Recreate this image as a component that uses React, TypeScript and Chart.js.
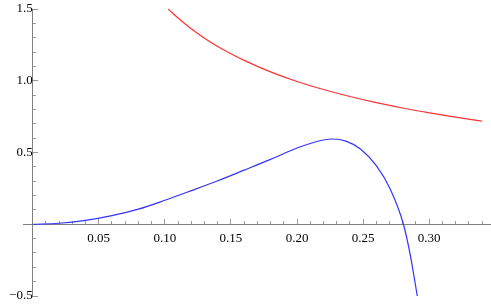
import React, { useEffect, useRef } from "react";
import { Chart, registerables } from "chart.js";

Chart.register(...registerables);

// Blue curve
const blueX = [0, 0.02, 0.04, 0.06, 0.08, 0.10, 0.12, 0.14, 0.16, 0.18, 0.20, 0.21, 0.22, 0.227, 0.237, 0.248, 0.26, 0.2705, 0.2805, 0.2856, 0.291];
const blueY = [0, 0.007, 0.027, 0.06, 0.105, 0.167, 0.234, 0.303, 0.377, 0.452, 0.531, 0.563, 0.587, 0.594, 0.579, 0.524, 0.408, 0.245, 0.0, -0.21, -0.5];

// Red curve
const redX = [0.1025, 0.11, 0.12, 0.13, 0.14, 0.15, 0.16, 0.18, 0.20, 0.22, 0.24, 0.26, 0.28, 0.30, 0.32, 0.34];
const redY = [1.5, 1.437, 1.362, 1.297, 1.239, 1.188, 1.142, 1.062, 0.995, 0.939, 0.890, 0.847, 0.810, 0.776, 0.746, 0.718];

// Ticks
const xMajorTicks = [0.05, 0.10, 0.15, 0.20, 0.25, 0.30];
const xMinorTicks = [0.01, 0.02, 0.03, 0.04, 0.06, 0.07, 0.08, 0.09, 0.11, 0.12, 0.13, 0.14, 0.16, 0.17, 0.18, 0.19, 0.21, 0.22, 0.23, 0.24, 0.26, 0.27, 0.28, 0.29, 0.31, 0.32, 0.33, 0.34];
const yMajorTicks = [-0.5, 0.5, 1.0, 1.5];
const yMinorTicks = [-0.4, -0.3, -0.2, -0.1, 0.1, 0.2, 0.3, 0.4, 0.6, 0.7, 0.8, 0.9, 1.1, 1.2, 1.3, 1.4];

const X_MIN = -0.0073;
const X_MAX = 0.346;
const Y_MIN = -0.5;
const Y_MAX = 1.5;

const AXIS_COLOR = "#808080";
const TICK_COLOR = "#9a9a9a";
const FAMILY = "Liberation Serif";

export default function App() {
  const ref = useRef<HTMLCanvasElement | null>(null);

  useEffect(() => {
    if (!ref.current) return;
    Chart.defaults.font.family = FAMILY;
    Chart.defaults.font.size = 13;
    Chart.defaults.color = "#000";
    const zeroX = (s: any) => { s.height = 0; s.paddingLeft = 0; s.paddingRight = 0; s.paddingTop = 0; s.paddingBottom = 0; };
    const zeroY = (s: any) => { s.width = 0; s.paddingLeft = 0; s.paddingRight = 0; s.paddingTop = 0; s.paddingBottom = 0; };
    const chart = new Chart(ref.current, {
      type: "line",
      data: {
        datasets: [
          {
            data: blueX.map((x, i) => ({ x, y: blueY[i] })),
            borderColor: "#3333ff",
            borderWidth: 1.2,
            pointRadius: 0,
            cubicInterpolationMode: "monotone",
            fill: false,
          },
          {
            data: redX.map((x, i) => ({ x, y: redY[i] })),
            borderColor: "#ff3333",
            borderWidth: 1.2,
            pointRadius: 0,
            cubicInterpolationMode: "monotone",
            fill: false,
          },
        ],
      },
      options: {
        animation: false,
        responsive: false,
        maintainAspectRatio: false,
        layout: { padding: { left: 23, right: 1, top: 9, bottom: 10 } },
        plugins: { legend: { display: false }, tooltip: { enabled: false }, title: { display: false } },
        scales: {
          x: {
            type: "linear",
            min: X_MIN,
            max: X_MAX,
            position: { y: 0 } as any,
            afterBuildTicks: (s: any) => { s.ticks = xMajorTicks.map((v) => ({ value: v })); },
            afterFit: zeroX,
            ticks: {
              autoSkip: false,
              maxRotation: 0,
              padding: 13,
              color: "#000",
              font: { family: FAMILY, size: 13 },
              callback: (v: any) => Number(v).toFixed(2),
            },
            grid: { drawOnChartArea: false, drawTicks: true, tickLength: -6, tickColor: TICK_COLOR, tickWidth: 1, lineWidth: 1 },
            border: { display: true, color: AXIS_COLOR, width: 1 },
          },
          x2: {
            type: "linear",
            min: X_MIN,
            max: X_MAX,
            position: { y: 0 } as any,
            afterBuildTicks: (s: any) => { s.ticks = xMinorTicks.map((v) => ({ value: v })); },
            afterFit: zeroX,
            ticks: { display: false, autoSkip: false },
            grid: { drawOnChartArea: false, drawTicks: true, tickLength: -3, tickColor: TICK_COLOR, tickWidth: 1, lineWidth: 1 },
            border: { display: false },
          },
          y: {
            type: "linear",
            min: Y_MIN,
            max: Y_MAX,
            position: { x: 0 } as any,
            afterBuildTicks: (s: any) => { s.ticks = yMajorTicks.map((v) => ({ value: v })); },
            afterFit: zeroY,
            ticks: {
              autoSkip: false,
              padding: 11,
              color: "#000",
              font: { family: FAMILY, size: 13 },
              callback: (v: any) => {
                const n = Number(v);
                return n < 0 ? "\u2212" + Math.abs(n).toFixed(1) : n.toFixed(1);
              },
            },
            grid: { drawOnChartArea: false, drawTicks: true, tickLength: -6, tickColor: TICK_COLOR, tickWidth: 1, lineWidth: 1 },
            border: { display: true, color: AXIS_COLOR, width: 1 },
          },
          y2: {
            type: "linear",
            min: Y_MIN,
            max: Y_MAX,
            position: { x: 0 } as any,
            afterBuildTicks: (s: any) => { s.ticks = yMinorTicks.map((v) => ({ value: v })); },
            afterFit: zeroY,
            ticks: { display: false, autoSkip: false },
            grid: { drawOnChartArea: false, drawTicks: true, tickLength: -3, tickColor: TICK_COLOR, tickWidth: 1, lineWidth: 1 },
            border: { display: false },
          },
        },
      } as any,
    });
    return () => chart.destroy();
  }, []);

  return (
    <div style={{ position: "fixed", left: 0, top: 0, width: 491, height: 306, background: "#fff" }}>
      <canvas ref={ref} width={491} height={306} style={{ display: "block", width: 491, height: 306 }} />
    </div>
  );
}
